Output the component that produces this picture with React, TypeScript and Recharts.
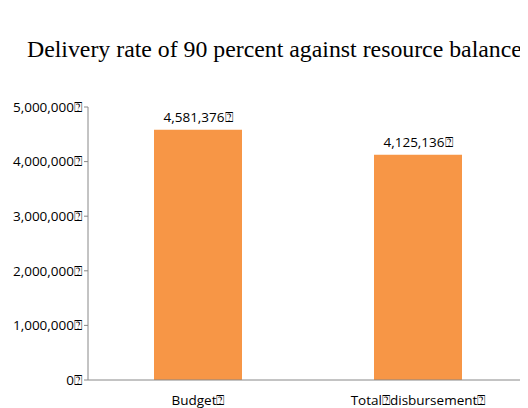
import React from "react";
import { BarChart, Bar, XAxis, YAxis, LabelList } from "recharts";

const BOX = "\u2370";
const categories = ["Budget" + BOX, "Total" + BOX + "disbursement" + BOX];
const values = [4581376, 4125136];
const yTicks = [0, 1000000, 2000000, 3000000, 4000000, 5000000];
const title = "Delivery rate of 90 percent against resource balance";

const data = categories.map((c, i) => ({ name: c, value: values[i] }));
const fmt = (v: number) => v.toLocaleString("en-US") + BOX;
const FONT = "'Open Sans', sans-serif";
const FS = 13.5;

export default function App() {
  return (
    <div style={{ position: "relative", width: 520, height: 400 }}>
      <div
        style={{
          position: "absolute",
          left: 19,
          top: 29,
          lineHeight: "24px",
          fontFamily: "'Liberation Serif', serif",
          fontSize: 23.8,
          color: "#000",
          whiteSpace: "nowrap",
        }}
      >
        {title}
      </div>
      <BarChart
        width={520}
        height={400}
        data={data}
        margin={{ top: 99, right: 0, bottom: 0, left: 0 }}
        barCategoryGap="30%"
      >
        <XAxis
          dataKey="name"
          xAxisId="cat"
          tickLine={false}
          axisLine={{ stroke: "#888" }}
          height={28}
          tick={{ fill: "#000", fontSize: FS, fontFamily: FONT, dy: 7 }}
          interval={0}
        />
        <XAxis
          xAxisId="sep"
          type="number"
          domain={[0, 2]}
          ticks={[1]}
          tick={false}
          axisLine={false}
          tickLine={{ stroke: "#888" }}
          tickSize={5}
          height={0}
        />
        <YAxis
          width={80}
          domain={[0, 5000000]}
          ticks={yTicks}
          tickFormatter={fmt}
          axisLine={{ stroke: "#888" }}
          tickLine={{ stroke: "#888" }}
          tickSize={4}
          tick={{ fill: "#000", fontSize: FS, fontFamily: FONT }}
          interval={0}
        />
        <Bar dataKey="value" xAxisId="cat" fill="#F79646" isAnimationActive={false}>
          <LabelList
            dataKey="value"
            position="top"
            offset={8}
            formatter={(v: number) => fmt(v)}
            style={{ fill: "#000", fontSize: FS, fontFamily: FONT }}
          />
        </Bar>
      </BarChart>
    </div>
  );
}
